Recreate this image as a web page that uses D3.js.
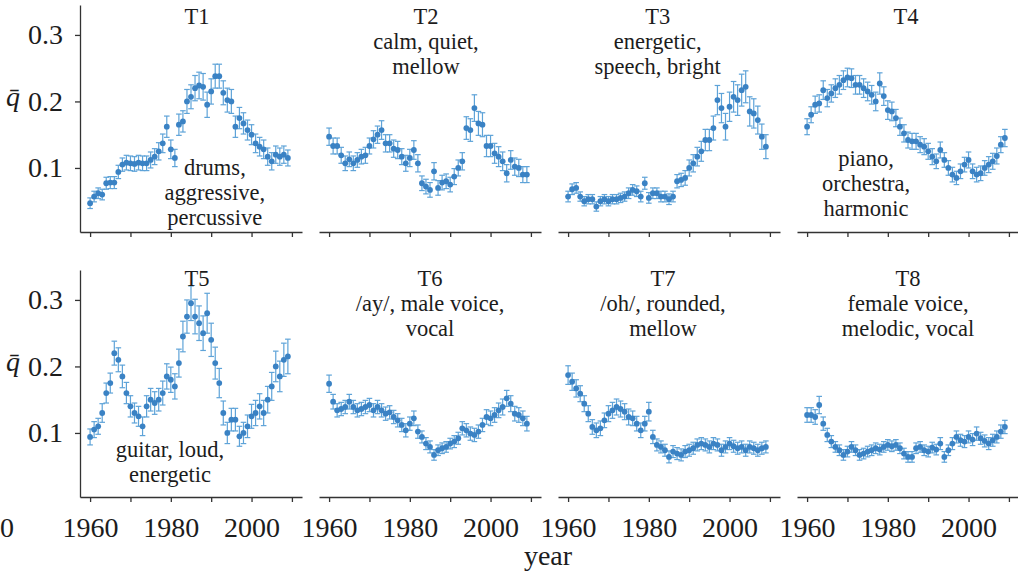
<!DOCTYPE html>
<html><head><meta charset="utf-8">
<script src="https://cdn.jsdelivr.net/npm/d3@7"></script>
<style>
body{margin:0;background:#fff}
svg{display:block}
svg text{font-family:"Liberation Serif","Times New Roman",serif;fill:#1c1c1c}
</style>
</head><body>
<svg id="chart" width="1018" height="574"></svg>
<script>
// ---------------- data ----------------
const years = [1960,1961,1962,1963,1964,1965,1966,1967,1968,1969,
               1970,1971,1972,1973,1974,1975,1976,1977,1978,1979,
               1980,1981,1982,1983,1984,1985,1986,1987,1988,1989,
               1990,1991,1992,1993,1994,1995,1996,1997,1998,1999,
               2000,2001,2002,2003,2004,2005,2006,2007,2008,2009];

const topicNames = ["T1","T2","T3","T4","T5","T6","T7","T8"];
const topicHeadLines = [[],["calm, quiet,","mellow"],["energetic,","speech, bright"],[],
                        [],["/ay/, male voice,","vocal"],["/oh/, rounded,","mellow"],["female voice,","melodic, vocal"]];
const topicInsideLines = [["drums,","aggressive,","percussive"],[],[],["piano,","orchestra,","harmonic"],
                          ["guitar, loud,","energetic"],[],[],[]];

const t1 = [.047,.057,.062,.060,.077,.078,.078,.094,.105,.108, .107,.106,.108,.107,.107,.112,.117,.125,.137,.162,
            .128,.115,.165,.170,.200,.207,.220,.224,.222,.195, .215,.238,.238,.213,.202,.200,.162,.175,.167,.157,
            .150,.137,.132,.128,.117,.110,.120,.117,.120,.115];
const t1Err = [.008,.008,.008,.008,.009,.009,.009,.010,.010,.011, .011,.011,.011,.011,.011,.012,.012,.013,.014,.016,
               .014,.013,.016,.016,.018,.018,.019,.020,.020,.019, .019,.018,.018,.018,.018,.018,.016,.016,.016,.015,
               .015,.014,.014,.014,.013,.013,.013,.013,.013,.012];

const t2 = [.147,.133,.133,.119,.107,.113,.107,.112,.117,.119, .133,.143,.150,.157,.137,.137,.129,.127,.117,.107,
            .115,.127,.107,.077,.072,.067,.095,.070,.078,.080, .075,.087,.100,.110,.160,.157,.190,.167,.165,.133,
            .133,.122,.117,.110,.092,.112,.102,.100,.090,.090];
const t2Err = [.013,.012,.012,.012,.011,.011,.011,.011,.011,.012, .012,.013,.013,.014,.013,.013,.013,.013,.012,.012,
               .013,.014,.013,.011,.011,.011,.013,.011,.011,.011, .011,.012,.012,.013,.017,.017,.020,.018,.018,.016,
               .016,.015,.015,.014,.013,.014,.013,.013,.012,.012];

const t3 = [.057,.068,.070,.057,.050,.053,.053,.042,.050,.053, .050,.053,.053,.055,.057,.062,.067,.065,.057,.077,
            .055,.062,.062,.057,.057,.053,.057,.080,.082,.085, .100,.107,.117,.125,.142,.142,.160,.202,.190,.162,
            .192,.207,.202,.217,.222,.185,.182,.172,.147,.132];
const t3Err = [.008,.008,.008,.007,.007,.007,.007,.007,.007,.007, .007,.007,.007,.007,.007,.008,.008,.008,.008,.009,
               .008,.008,.008,.008,.008,.008,.008,.010,.010,.011, .012,.013,.014,.015,.016,.016,.018,.022,.022,.020,
               .022,.023,.023,.024,.024,.022,.022,.021,.019,.018];

const t4 = [.162,.180,.195,.197,.217,.205,.212,.220,.225,.232, .236,.235,.225,.225,.220,.215,.210,.200,.227,.208,
            .187,.185,.175,.162,.152,.142,.140,.140,.135,.132, .125,.117,.110,.127,.112,.100,.090,.085,.095,.105,
            .112,.095,.090,.092,.100,.105,.110,.118,.135,.145];
const t4Err = [.012,.012,.013,.013,.014,.013,.013,.014,.014,.014, .014,.014,.014,.014,.014,.014,.014,.014,.016,.014,
               .014,.014,.013,.013,.013,.012,.012,.012,.012,.012, .012,.012,.011,.012,.011,.011,.011,.010,.011,.011,
               .012,.011,.011,.011,.011,.012,.012,.012,.012,.013];

const t5 = [.094,.105,.110,.130,.160,.175,.220,.210,.185,.160, .140,.130,.125,.110,.140,.150,.145,.150,.160,.185,
            .180,.170,.205,.245,.275,.295,.275,.265,.250,.280, .240,.205,.175,.130,.100,.120,.120,.095,.100,.110,
            .125,.130,.140,.130,.150,.170,.200,.185,.210,.215];
const t5Err = [.012,.012,.012,.014,.015,.015,.018,.018,.017,.016, .016,.015,.015,.014,.016,.017,.017,.017,.018,.019,
               .019,.019,.021,.023,.025,.026,.026,.026,.026,.030, .025,.024,.022,.018,.016,.017,.017,.015,.016,.017,
               .018,.019,.019,.019,.020,.021,.023,.023,.025,.026];

const t6 = [.174,.147,.134,.136,.139,.147,.139,.134,.136,.139, .142,.134,.139,.134,.129,.131,.124,.119,.112,.104,
            .114,.122,.102,.094,.084,.079,.067,.074,.077,.079, .084,.087,.092,.107,.104,.099,.097,.102,.112,.124,
            .122,.127,.134,.139,.152,.144,.129,.127,.122,.114];
const t6Err = [.013,.011,.010,.010,.010,.011,.010,.010,.010,.010, .010,.010,.010,.010,.010,.010,.010,.010,.010,.010,
               .010,.011,.010,.009,.009,.009,.008,.008,.008,.008, .008,.009,.009,.010,.010,.010,.010,.010,.010,.011,
               .011,.011,.011,.012,.012,.012,.011,.011,.011,.011];

const t7 = [.187,.177,.167,.159,.144,.129,.109,.104,.107,.119, .129,.134,.139,.136,.132,.124,.122,.114,.104,.114,
            .132,.094,.082,.079,.074,.064,.072,.069,.067,.072, .074,.077,.082,.084,.082,.079,.084,.082,.074,.079,
            .084,.080,.077,.079,.074,.079,.077,.074,.077,.079];
const t7Err = [.014,.013,.013,.012,.012,.012,.011,.011,.011,.011, .012,.012,.012,.012,.012,.012,.011,.011,.011,.011,
               .014,.010,.009,.009,.009,.009,.009,.009,.009,.009, .009,.009,.009,.009,.009,.009,.009,.009,.009,.009,
               .009,.009,.009,.009,.009,.009,.009,.009,.009,.009];

const t8 = [.127,.127,.124,.142,.114,.097,.087,.079,.074,.067, .072,.079,.074,.067,.069,.072,.074,.077,.075,.079,
            .082,.080,.082,.077,.069,.064,.064,.077,.079,.074, .072,.078,.075,.084,.064,.074,.084,.094,.089,.087,
            .094,.090,.099,.092,.088,.084,.089,.094,.102,.109];
const t8Err = [.011,.011,.011,.013,.010,.010,.009,.008,.008,.008, .008,.008,.008,.008,.008,.008,.008,.008,.008,.008,
               .008,.008,.008,.008,.008,.008,.008,.008,.008,.008, .008,.008,.008,.009,.008,.008,.009,.009,.009,.009,
               .009,.009,.010,.009,.009,.009,.009,.009,.010,.010];

const topicValues = [t1,t2,t3,t4,t5,t6,t7,t8];
const topicErrors = [t1Err,t2Err,t3Err,t4Err,t5Err,t6Err,t7Err,t8Err];

const yTickValues = [0.1, 0.2, 0.3];
const xTickValues = [1960, 1970, 1980, 1990, 2000, 2010];
const xTickLabels = [1960, 1980, 2000];
const yLabel = "q\u0304";
const xLabel = "year";

// ---------------- layout ----------------
const FONT = "Liberation Serif, Times New Roman, serif";
const colLeft = [80, 319, 558, 797];
const rowTop = [5, 270];
const pw = 222, ph = 227;
const titleYear = [1986.5, 1984, 1982.2, 1984.5, 1986.5, 1985, 1983.5, 1985];
const titleBase = [19, 16];
const lineGap = 25;
const insideGap = 25;
const textSize = 22.5;
const insideAnchor = [[1990.9, 0.090], null, null, [1974.6, 0.1025], [1979.8, 0.064], null, null, null];

const dotColor = "#3a82c4";
const barColor = "#5ea3d8";
const axisColor = "#333";

const svg = d3.select("#chart");
const x = d3.scaleLinear().domain([1957.5, 2012.5]).range([0, pw]);
const y = d3.scaleLinear().domain([0.0037, 0.345]).range([ph, 0]);

function label(sel, fs) {
  return sel.attr("font-family", FONT).attr("font-size", fs).attr("fill", "#1c1c1c");
}

topicNames.forEach((name, i) => {
  const row = Math.floor(i / 4), col = i % 4;
  const g = svg.append("g").attr("transform", `translate(${colLeft[col]},${rowTop[row]})`);

  // x axis
  const xa = g.append("g").attr("transform", `translate(0,${ph})`)
    .call(d3.axisBottom(x).tickValues(xTickValues).tickSize(5).tickSizeOuter(0).tickPadding(15)
      .tickFormat(d => (row === 1 && xTickLabels.includes(d)) ? d : ""));
  xa.attr("font-family", FONT);
  label(xa.selectAll("text"), 28);

  if (col === 0) {
    const ya = g.append("g")
      .call(d3.axisLeft(y).tickValues(yTickValues).tickSize(5).tickSizeOuter(0).tickPadding(12)
        .tickFormat(d3.format(".1f")));
    ya.attr("font-family", FONT);
    label(ya.selectAll("text"), 28);
    label(g.append("text"), 28).attr("x", -67).attr("y", y(0.2) + 5)
      .attr("text-anchor", "middle").attr("font-style", "italic").text(yLabel);
  }
  g.selectAll(".domain, .tick line").attr("stroke", axisColor).attr("stroke-width", 1.3);

  // error bars
  const vals = topicValues[i], errs = topicErrors[i];
  const pts = years.map((yr, k) => ({yr, v: vals[k], e: errs[k]}));
  const eb = g.append("g").attr("stroke", barColor).attr("stroke-width", 1.2);
  eb.selectAll("line.v").data(pts).join("line").attr("class", "v")
    .attr("x1", d => x(d.yr)).attr("x2", d => x(d.yr))
    .attr("y1", d => y(d.v - d.e)).attr("y2", d => y(d.v + d.e));
  eb.selectAll("line.cu").data(pts).join("line").attr("class", "cu")
    .attr("x1", d => x(d.yr) - 2.8).attr("x2", d => x(d.yr) + 2.8)
    .attr("y1", d => y(d.v + d.e)).attr("y2", d => y(d.v + d.e));
  eb.selectAll("line.cl").data(pts).join("line").attr("class", "cl")
    .attr("x1", d => x(d.yr) - 2.8).attr("x2", d => x(d.yr) + 2.8)
    .attr("y1", d => y(d.v - d.e)).attr("y2", d => y(d.v - d.e));
  g.append("g").selectAll("circle").data(pts).join("circle")
    .attr("cx", d => x(d.yr)).attr("cy", d => y(d.v)).attr("r", 2.9).attr("fill", dotColor);

  // titles
  const tx = x(titleYear[i]);
  const lines = [name].concat(topicHeadLines[i]);
  lines.forEach((t, k) => {
    label(g.append("text"), textSize).attr("x", tx).attr("y", titleBase[row] + k * lineGap)
      .attr("text-anchor", "middle").text(t);
  });
  if (insideAnchor[i]) {
    const [ay, aq] = insideAnchor[i];
    topicInsideLines[i].forEach((t, k) => {
      label(g.append("text"), textSize).attr("x", x(ay)).attr("y", y(aq) + k * insideGap)
        .attr("text-anchor", "middle").text(t);
    });
  }
});

label(svg.append("text"), 28).attr("x", 548).attr("y", 565).attr("text-anchor", "middle").text(xLabel);
label(svg.append("text"), 28).attr("x", 0).attr("y", 537).attr("text-anchor", "start").text("0");
</script>
</body></html>
